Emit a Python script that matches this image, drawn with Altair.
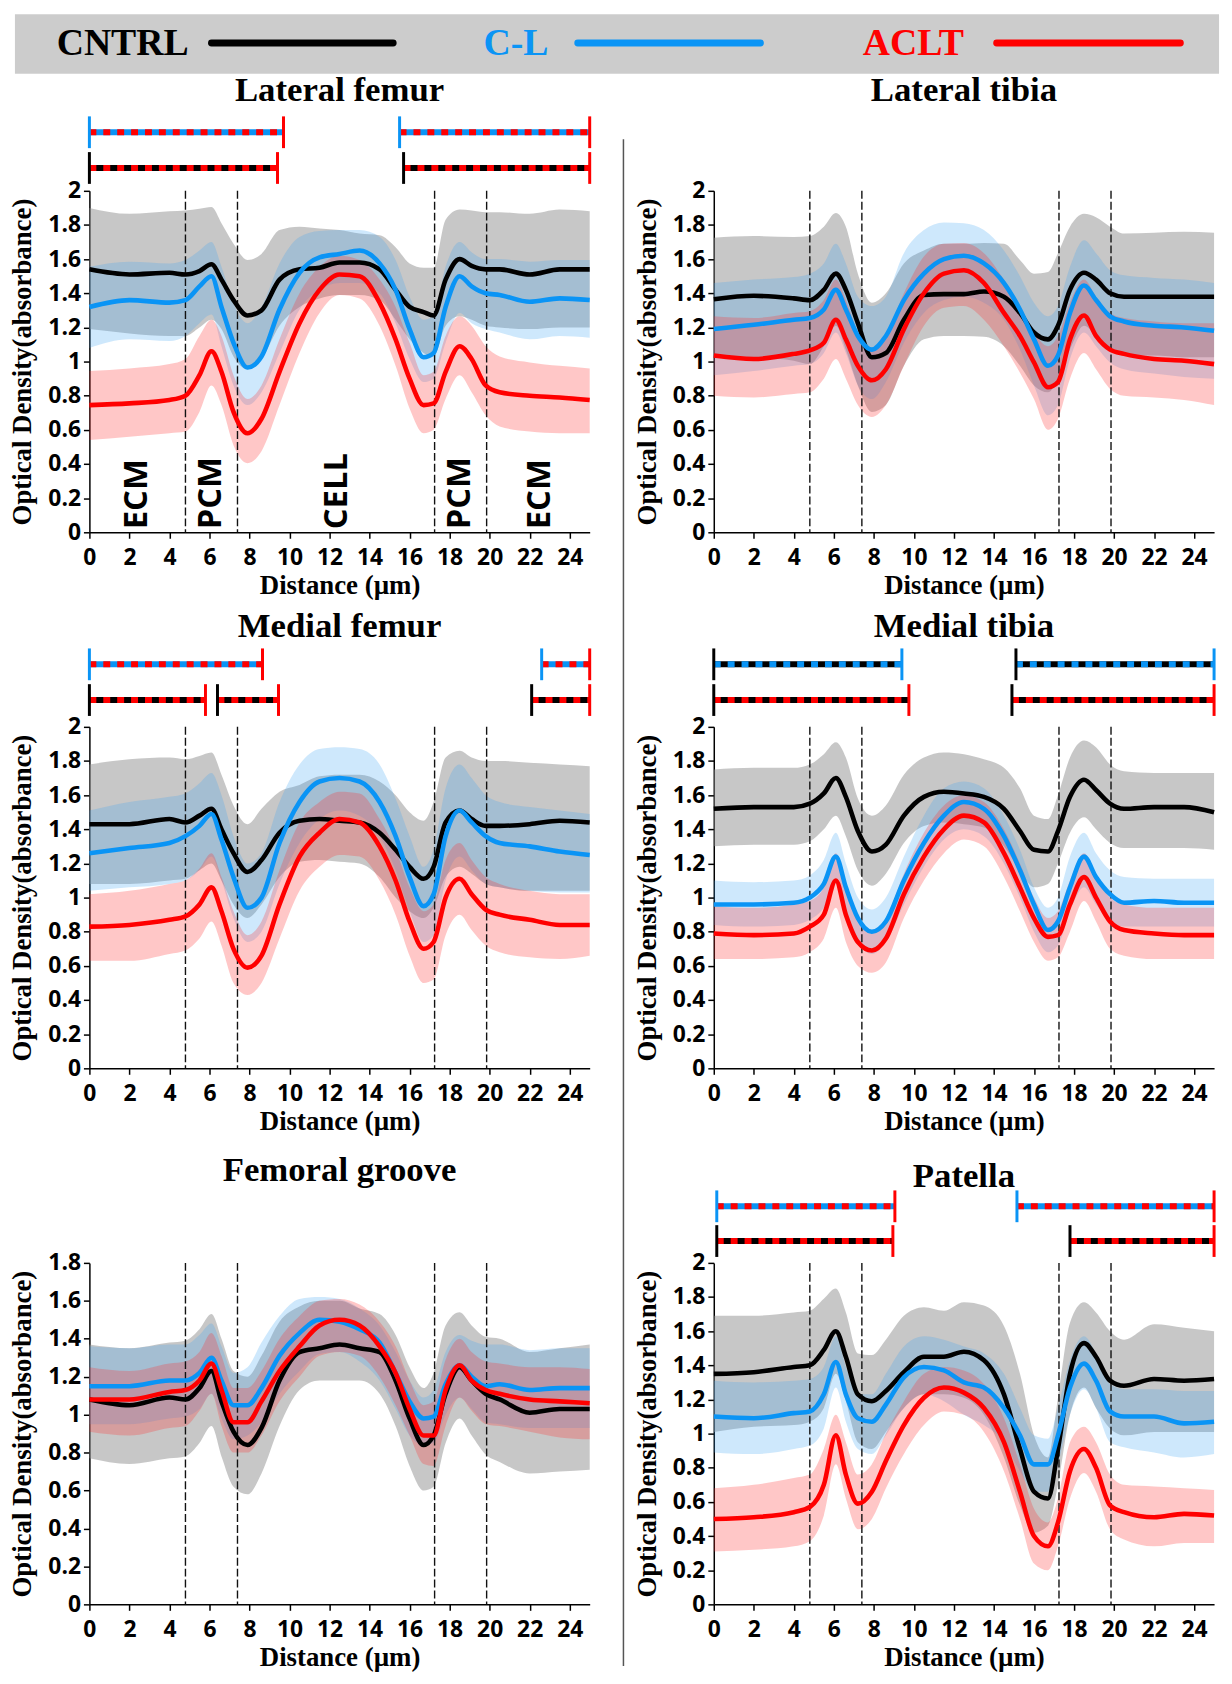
import altair as alt
import pandas as pd

GROUPS = ["CNTRL", "C-L", "ACLT"]
LINE_COLORS = ["#000000", "#0a94f5", "#ff0000"]
BAND_FILLS = ["#909090", "#3aa5f5", "#ff3030"]
BAND_OPACITY = [0.5, 0.25, 0.27]
COLOR_OF = dict(zip(GROUPS, LINE_COLORS))

X = [0, 2, 4, 4.8, 5.5, 6.1, 6.6, 7.2, 7.9, 8.6, 9.5, 10.5, 11.5, 12.5, 13.5,
     14.5, 15.3, 16.0, 16.7, 17.2, 17.8, 18.5, 19.1, 19.8, 20.5, 22, 23.5, 25]
X_TICKS = [0, 2, 4, 6, 8, 10, 12, 14, 16, 18, 20, 22, 24]
Y_TICKS = [0, 0.2, 0.4, 0.6, 0.8, 1.0, 1.2, 1.4, 1.6, 1.8, 2.0]
Y_TICKS_FG = [0, 0.2, 0.4, 0.6, 0.8, 1.0, 1.2, 1.4, 1.6, 1.8]
BOUNDS = [4.8, 7.4, 17.25, 19.85]
REGIONS = ["ECM", "PCM", "CELL", "PCM", "ECM"]
REGION_X = [2.4, 6.1, 12.4, 18.5, 22.5]

# ---- Lateral femur ----
LF_CNTRL_M = [1.54,1.51,1.52,1.51,1.53,1.57,1.48,1.36,1.27,1.30,1.48,1.54,1.55,1.58,1.58,1.54,1.42,1.32,1.29,1.27,1.48,1.60,1.56,1.54,1.54,1.51,1.54,1.54]
LF_CNTRL_HI = [1.90,1.865,1.88,1.885,1.895,1.905,1.81,1.69,1.595,1.63,1.77,1.79,1.78,1.77,1.75,1.74,1.67,1.575,1.55,1.55,1.83,1.89,1.885,1.875,1.875,1.865,1.89,1.88]
LF_CNTRL_LO = [1.19,1.165,1.15,1.15,1.20,1.245,1.19,1.03,0.955,1.015,1.21,1.32,1.37,1.39,1.39,1.36,1.245,1.13,1.05,1.03,1.21,1.265,1.245,1.21,1.20,1.19,1.20,1.20]
LF_CL_M = [1.32,1.36,1.345,1.36,1.44,1.50,1.32,1.11,0.965,1.03,1.305,1.52,1.61,1.63,1.65,1.575,1.42,1.19,1.025,1.05,1.32,1.50,1.44,1.40,1.39,1.35,1.37,1.36]
LF_CL_HI = [1.555,1.585,1.575,1.595,1.65,1.70,1.555,1.34,1.225,1.32,1.575,1.73,1.765,1.77,1.77,1.73,1.595,1.38,1.245,1.265,1.555,1.70,1.64,1.60,1.60,1.585,1.595,1.595]
LF_CL_LO = [1.08,1.13,1.12,1.15,1.225,1.275,1.09,0.86,0.745,0.82,1.05,1.305,1.42,1.46,1.46,1.40,1.225,1.015,0.88,0.90,1.11,1.285,1.225,1.19,1.17,1.13,1.15,1.14]
LF_ACLT_M = [0.745,0.755,0.775,0.80,0.92,1.06,0.94,0.705,0.58,0.665,0.94,1.225,1.42,1.51,1.50,1.345,1.13,0.90,0.745,0.755,0.94,1.09,1.015,0.86,0.82,0.80,0.79,0.775]
LF_ACLT_HI = [0.945,0.96,0.985,1.015,1.15,1.245,1.15,0.92,0.78,0.86,1.13,1.40,1.555,1.62,1.595,1.48,1.32,1.11,0.92,0.94,1.15,1.265,1.21,1.09,1.03,0.995,0.975,0.96]
LF_ACLT_LO = [0.54,0.56,0.58,0.59,0.705,0.86,0.745,0.51,0.405,0.475,0.745,1.05,1.285,1.39,1.37,1.21,0.975,0.725,0.58,0.60,0.78,0.92,0.82,0.685,0.62,0.59,0.58,0.58]

# ---- Lateral tibia ----
LT_CNTRL_M = [1.365,1.385,1.37,1.36,1.42,1.515,1.42,1.225,1.025,1.05,1.245,1.39,1.395,1.395,1.41,1.38,1.285,1.17,1.13,1.21,1.42,1.52,1.48,1.40,1.38,1.38,1.38,1.38]
LT_CNTRL_HI = [1.725,1.735,1.73,1.735,1.79,1.87,1.79,1.515,1.345,1.40,1.575,1.65,1.69,1.69,1.695,1.69,1.595,1.515,1.525,1.635,1.79,1.865,1.845,1.79,1.75,1.755,1.76,1.755]
LT_CNTRL_LO = [1.035,1.025,1.005,0.985,1.09,1.21,1.07,0.86,0.705,0.745,0.975,1.13,1.15,1.15,1.145,1.09,0.975,0.86,0.82,0.90,1.07,1.21,1.15,1.07,1.035,1.035,1.025,1.025]
LT_CL_M = [1.19,1.215,1.245,1.255,1.305,1.42,1.305,1.15,1.07,1.15,1.36,1.515,1.60,1.62,1.575,1.46,1.305,1.13,0.975,1.035,1.285,1.445,1.36,1.265,1.235,1.21,1.20,1.18]
LT_CL_HI = [1.46,1.48,1.495,1.515,1.575,1.69,1.575,1.38,1.325,1.38,1.635,1.77,1.815,1.81,1.77,1.65,1.50,1.345,1.265,1.325,1.555,1.71,1.635,1.535,1.505,1.49,1.48,1.46]
LT_CL_LO = [0.92,0.945,0.975,0.985,1.05,1.17,1.05,0.86,0.78,0.88,1.11,1.285,1.36,1.38,1.345,1.245,1.07,0.86,0.685,0.745,1.015,1.17,1.09,0.995,0.955,0.93,0.91,0.90]
LT_ACLT_M = [1.035,1.015,1.045,1.065,1.11,1.245,1.13,0.975,0.89,0.955,1.19,1.40,1.515,1.535,1.46,1.285,1.15,0.995,0.85,0.88,1.13,1.27,1.15,1.07,1.045,1.015,1.005,0.985]
LT_ACLT_HI = [1.265,1.255,1.285,1.295,1.36,1.48,1.36,1.17,1.07,1.15,1.40,1.615,1.69,1.695,1.635,1.48,1.325,1.17,1.09,1.15,1.345,1.48,1.38,1.285,1.255,1.235,1.225,1.225]
LT_ACLT_LO = [0.80,0.79,0.81,0.82,0.90,1.015,0.90,0.745,0.675,0.745,0.975,1.21,1.315,1.325,1.245,1.09,0.935,0.78,0.60,0.665,0.90,1.05,0.955,0.84,0.80,0.79,0.775,0.745]

# ---- Medial femur ----
MF_CNTRL_M = [1.43,1.43,1.46,1.44,1.48,1.52,1.40,1.26,1.15,1.22,1.38,1.45,1.46,1.45,1.44,1.38,1.28,1.18,1.11,1.18,1.44,1.51,1.46,1.42,1.42,1.43,1.45,1.44]
MF_CNTRL_HI = [1.78,1.81,1.82,1.81,1.83,1.85,1.72,1.54,1.43,1.52,1.62,1.66,1.71,1.72,1.72,1.68,1.60,1.50,1.45,1.56,1.82,1.86,1.82,1.80,1.80,1.79,1.78,1.77]
MF_CNTRL_LO = [1.08,1.08,1.10,1.11,1.16,1.20,1.10,0.96,0.88,0.96,1.12,1.21,1.22,1.21,1.20,1.12,1.00,0.92,0.88,0.94,1.12,1.18,1.14,1.08,1.06,1.04,1.04,1.04]
MF_CL_M = [1.26,1.29,1.32,1.36,1.42,1.49,1.34,1.12,0.94,1.00,1.32,1.56,1.68,1.70,1.68,1.56,1.36,1.12,0.95,1.02,1.36,1.51,1.44,1.36,1.32,1.30,1.27,1.25]
MF_CL_HI = [1.51,1.56,1.59,1.61,1.67,1.73,1.60,1.36,1.20,1.26,1.56,1.78,1.87,1.88,1.87,1.78,1.58,1.36,1.18,1.28,1.64,1.78,1.70,1.60,1.56,1.53,1.51,1.49]
MF_CL_LO = [1.04,1.06,1.08,1.10,1.16,1.24,1.10,0.88,0.74,0.80,1.08,1.32,1.46,1.51,1.48,1.36,1.16,0.92,0.74,0.78,1.10,1.24,1.16,1.08,1.06,1.04,1.03,1.03]
MF_ACLT_M = [0.83,0.84,0.87,0.89,0.96,1.06,0.92,0.70,0.59,0.66,0.96,1.24,1.38,1.46,1.44,1.30,1.10,0.86,0.70,0.74,1.00,1.11,1.02,0.93,0.90,0.87,0.84,0.84]
MF_ACLT_HI = [1.02,1.04,1.08,1.10,1.17,1.26,1.12,0.92,0.78,0.86,1.16,1.44,1.56,1.62,1.61,1.46,1.28,1.06,0.92,0.96,1.22,1.32,1.22,1.12,1.08,1.04,1.02,1.02]
MF_ACLT_LO = [0.63,0.63,0.67,0.69,0.76,0.86,0.72,0.50,0.43,0.50,0.76,1.04,1.18,1.25,1.24,1.10,0.90,0.66,0.50,0.52,0.78,0.90,0.81,0.72,0.68,0.65,0.64,0.66]

# ---- Medial tibia ----
MT_CNTRL_M = [1.52,1.53,1.53,1.55,1.61,1.70,1.59,1.39,1.27,1.31,1.48,1.59,1.62,1.61,1.59,1.52,1.39,1.28,1.27,1.39,1.59,1.69,1.63,1.55,1.52,1.53,1.53,1.50]
MT_CNTRL_HI = [1.75,1.76,1.76,1.78,1.84,1.91,1.82,1.58,1.48,1.54,1.72,1.82,1.85,1.84,1.81,1.76,1.64,1.48,1.46,1.60,1.82,1.92,1.88,1.78,1.74,1.73,1.73,1.73]
MT_CNTRL_LO = [1.30,1.31,1.31,1.33,1.40,1.48,1.36,1.16,1.07,1.14,1.32,1.42,1.44,1.43,1.41,1.30,1.16,1.06,1.08,1.20,1.38,1.47,1.40,1.32,1.29,1.29,1.29,1.28]
MT_CL_M = [0.96,0.96,0.97,1.00,1.08,1.24,1.06,0.88,0.80,0.86,1.10,1.32,1.48,1.56,1.52,1.36,1.16,0.96,0.81,0.86,1.06,1.24,1.12,1.02,0.97,0.98,0.97,0.97]
MT_CL_HI = [1.10,1.09,1.10,1.13,1.22,1.38,1.20,1.00,0.93,1.00,1.24,1.48,1.64,1.68,1.64,1.48,1.28,1.06,0.94,1.00,1.24,1.38,1.26,1.16,1.12,1.11,1.11,1.11]
MT_CL_LO = [0.84,0.83,0.84,0.87,0.94,1.08,0.92,0.74,0.67,0.74,0.96,1.18,1.34,1.40,1.36,1.20,1.00,0.80,0.68,0.72,0.92,1.06,0.96,0.86,0.83,0.83,0.83,0.83]
MT_ACLT_M = [0.79,0.78,0.79,0.83,0.90,1.10,0.90,0.74,0.69,0.76,1.02,1.24,1.40,1.48,1.44,1.26,1.06,0.88,0.77,0.78,0.96,1.12,1.00,0.86,0.81,0.79,0.78,0.78]
MT_ACLT_HI = [0.95,0.94,0.96,0.98,1.06,1.26,1.06,0.88,0.81,0.88,1.14,1.38,1.54,1.60,1.56,1.40,1.20,1.00,0.88,0.92,1.10,1.26,1.14,1.00,0.96,0.94,0.94,0.94]
MT_ACLT_LO = [0.64,0.64,0.65,0.68,0.76,0.94,0.74,0.60,0.56,0.62,0.88,1.10,1.26,1.34,1.30,1.12,0.92,0.74,0.63,0.65,0.80,0.98,0.86,0.70,0.66,0.64,0.64,0.64]

# ---- Femoral groove ----
FG_CNTRL_M = [1.08,1.05,1.09,1.08,1.14,1.23,1.07,0.91,0.84,0.93,1.18,1.33,1.35,1.37,1.35,1.33,1.18,0.98,0.84,0.89,1.11,1.25,1.18,1.11,1.08,1.01,1.03,1.03]
FG_CNTRL_HI = [1.37,1.35,1.38,1.39,1.45,1.53,1.40,1.23,1.20,1.31,1.49,1.57,1.60,1.60,1.56,1.53,1.42,1.25,1.14,1.22,1.47,1.54,1.47,1.41,1.40,1.33,1.35,1.37]
FG_CNTRL_LO = [0.77,0.74,0.77,0.78,0.85,0.94,0.78,0.62,0.58,0.69,0.94,1.13,1.18,1.18,1.18,1.11,0.94,0.73,0.60,0.62,0.85,0.98,0.89,0.79,0.75,0.69,0.70,0.71]
FG_CL_M = [1.15,1.15,1.18,1.18,1.22,1.30,1.18,1.05,1.05,1.14,1.31,1.43,1.50,1.49,1.45,1.38,1.22,1.07,0.98,0.99,1.16,1.26,1.20,1.15,1.16,1.13,1.14,1.14]
FG_CL_HI = [1.36,1.35,1.37,1.37,1.42,1.48,1.36,1.22,1.25,1.38,1.52,1.61,1.62,1.61,1.56,1.47,1.33,1.18,1.09,1.13,1.33,1.42,1.39,1.37,1.37,1.34,1.35,1.35]
FG_CL_LO = [0.95,0.95,0.98,0.99,1.03,1.11,0.98,0.87,0.89,0.96,1.11,1.23,1.32,1.33,1.28,1.18,1.03,0.89,0.84,0.85,1.00,1.09,1.03,0.96,0.95,0.93,0.93,0.93]
FG_ACLT_M = [1.08,1.08,1.12,1.13,1.18,1.27,1.13,0.96,0.96,1.07,1.23,1.36,1.47,1.50,1.47,1.36,1.22,1.03,0.89,0.89,1.13,1.26,1.18,1.13,1.11,1.08,1.07,1.06]
FG_ACLT_HI = [1.25,1.23,1.27,1.28,1.33,1.43,1.31,1.14,1.14,1.23,1.40,1.52,1.60,1.61,1.58,1.49,1.36,1.18,1.05,1.07,1.29,1.40,1.33,1.28,1.27,1.25,1.25,1.24]
FG_ACLT_LO = [0.91,0.89,0.93,0.94,1.02,1.11,0.94,0.80,0.80,0.89,1.07,1.20,1.31,1.33,1.31,1.20,1.05,0.89,0.74,0.73,0.94,1.09,1.02,0.95,0.94,0.91,0.88,0.87]

# ---- Patella ----
PA_CNTRL_M = [1.35,1.36,1.39,1.40,1.49,1.60,1.45,1.23,1.19,1.25,1.36,1.45,1.45,1.48,1.43,1.23,0.91,0.66,0.62,0.91,1.35,1.53,1.45,1.31,1.28,1.32,1.31,1.32]
PA_CNTRL_HI = [1.69,1.69,1.71,1.72,1.79,1.85,1.71,1.47,1.46,1.55,1.69,1.74,1.72,1.77,1.75,1.63,1.35,0.99,0.86,1.21,1.65,1.77,1.71,1.60,1.55,1.64,1.62,1.60]
PA_CNTRL_LO = [1.01,1.04,1.05,1.07,1.15,1.35,1.19,0.95,0.91,1.01,1.15,1.23,1.23,1.21,1.11,0.86,0.58,0.42,0.46,0.70,1.11,1.27,1.15,1.03,0.99,1.01,1.01,1.01]
PA_CL_M = [1.10,1.09,1.12,1.13,1.23,1.42,1.23,1.09,1.07,1.17,1.33,1.39,1.37,1.30,1.27,1.15,0.99,0.82,0.82,0.99,1.27,1.41,1.31,1.13,1.10,1.10,1.06,1.07]
PA_CL_HI = [1.31,1.30,1.31,1.32,1.39,1.57,1.39,1.23,1.23,1.35,1.51,1.57,1.55,1.51,1.47,1.35,1.15,0.99,0.97,1.15,1.43,1.57,1.47,1.29,1.26,1.26,1.25,1.25]
PA_CL_LO = [0.89,0.88,0.91,0.93,1.03,1.27,1.07,0.91,0.88,0.99,1.15,1.23,1.19,1.11,1.05,0.95,0.78,0.66,0.66,0.82,1.11,1.26,1.15,0.95,0.92,0.89,0.86,0.88]
PA_ACLT_M = [0.50,0.51,0.54,0.57,0.70,0.99,0.76,0.59,0.66,0.84,1.05,1.21,1.27,1.24,1.15,0.95,0.66,0.40,0.34,0.48,0.78,0.91,0.80,0.58,0.54,0.51,0.53,0.52]
PA_ACLT_HI = [0.68,0.70,0.74,0.76,0.91,1.11,0.95,0.76,0.82,1.00,1.19,1.35,1.39,1.37,1.29,1.09,0.82,0.56,0.48,0.62,0.95,1.04,0.95,0.76,0.70,0.69,0.68,0.67]
PA_ACLT_LO = [0.31,0.32,0.34,0.37,0.52,0.82,0.62,0.44,0.50,0.68,0.88,1.05,1.13,1.11,1.01,0.78,0.50,0.24,0.20,0.34,0.62,0.77,0.66,0.44,0.38,0.34,0.36,0.36]

# significance bars: (left group, right group, [(start, end), ...]) for upper and lower rows
LF_SIG = [("C-L", "ACLT", [(0, 9.7), (15.5, 25)]), ("CNTRL", "ACLT", [(0, 9.4), (15.7, 25)])]
MF_SIG = [("C-L", "ACLT", [(0, 8.65), (22.6, 25)]), ("CNTRL", "ACLT", [(0, 5.8), (6.4, 9.45), (22.1, 25)])]
MT_SIG = [("CNTRL", "C-L", [(0, 9.4), (15.1, 25)]), ("CNTRL", "ACLT", [(0, 9.75), (14.9, 25)])]
PA_SIG = [("C-L", "ACLT", [(0.15, 9.05), (15.15, 25)]), ("CNTRL", "ACLT", [(0.15, 8.95), (17.8, 25)])]

W, H = 504, 344
XSCALE = alt.Scale(domain=[0, 25], nice=False, zero=False)
XAXIS = alt.Axis(values=X_TICKS, title="Distance (µm)", labelFlush=False, labelOverlap=False,
                 titlePadding=4, labelPadding=8, tickSize=6)
ONE = pd.DataFrame({"k": [0]})


def ex(field):
    return alt.X(field, type="quantitative", scale=XSCALE, axis=XAXIS)


def panel(title, series, ymax, yticks, title_dy, sig=None, sig_dy=(-60, -24),
          regions=False, legend=False, separator=False):
    yscale = alt.Scale(domain=[0, ymax], nice=False, zero=True)
    yaxis = alt.Axis(values=yticks, format=".1~f", title="Optical Density(absorbance)",
                     titlePadding=11, labelPadding=3, tickSize=6)

    def ey(field):
        return alt.Y(field, type="quantitative", scale=yscale, axis=yaxis)

    rows = []
    for g, (m, lo, hi) in zip(GROUPS, series):
        for i, x in enumerate(X):
            rows.append({"x": x, "group": g, "m": m[i], "lo": lo[i], "hi": hi[i]})
    df = pd.DataFrame(rows)

    layers = []
    for g, fill, op in zip(GROUPS, BAND_FILLS, BAND_OPACITY):
        layers.append(
            alt.Chart(df).transform_filter(alt.datum.group == g)
            .mark_area(interpolate="monotone", color=fill, opacity=op)
            .encode(x=ex("x"), y=ey("lo"), y2=alt.Y2("hi"))
        )
    layers.append(
        alt.Chart(pd.DataFrame({"b": BOUNDS}))
        .mark_rule(color="#111111", strokeWidth=1.4, strokeDash=[8, 3])
        .encode(x=ex("b"), y=alt.value(0), y2=alt.value(H))
    )
    for g, c in zip(GROUPS, LINE_COLORS):
        layers.append(
            alt.Chart(df).transform_filter(alt.datum.group == g)
            .mark_line(interpolate="monotone", color=c, strokeWidth=4.6)
            .encode(x=ex("x"), y=ey("m"))
        )
    if regions:
        layers.append(
            alt.Chart(pd.DataFrame({"rx": REGION_X, "lab": REGIONS}))
            .mark_text(angle=270, align="left", baseline="middle", font="Open Sans",
                       fontWeight="bold", fontSize=33, color="black")
            .encode(x=ex("rx"), y=alt.value(H - 3), text="lab:N")
        )
    if sig:
        for (g1, g2, spans), yo in zip(sig, sig_dy):
            sdf = pd.DataFrame({"s": [a for a, b in spans], "e": [b for a, b in spans]})
            c1, c2 = COLOR_OF[g1], COLOR_OF[g2]
            layers.append(alt.Chart(sdf).mark_rule(color=c1, strokeWidth=6)
                          .encode(x=ex("s"), x2=alt.X2("e"), y=alt.value(yo)))
            layers.append(alt.Chart(sdf).mark_rule(color=c2, strokeWidth=6, strokeDash=[7, 7])
                          .encode(x=ex("s"), x2=alt.X2("e"), y=alt.value(yo)))
            layers.append(alt.Chart(sdf).mark_rule(color=c1, strokeWidth=3)
                          .encode(x=ex("s"), y=alt.value(yo - 16), y2=alt.value(yo + 16)))
            layers.append(alt.Chart(sdf).mark_rule(color=c2, strokeWidth=3)
                          .encode(x=ex("e"), y=alt.value(yo - 16), y2=alt.value(yo + 16)))
    layers.append(
        alt.Chart(ONE).mark_text(text=title, font="Liberation Serif", fontWeight="bold",
                                 fontSize=35, color="black", baseline="middle", align="center")
        .encode(x=alt.value(W / 2), y=alt.value(title_dy))
    )
    if legend:
        layers.append(alt.Chart(ONE).mark_rect(color="#cccccc")
                      .encode(x=alt.value(-75), x2=alt.value(1138), y=alt.value(-178), y2=alt.value(-118)))
        for g, c, tx, l0, l1 in zip(GROUPS, LINE_COLORS, [-33, 397, 779], [123, 492, 914], [306, 676, 1099]):
            layers.append(alt.Chart(ONE).mark_text(text=g, font="Liberation Serif", fontWeight="bold",
                                                   fontSize=38, color=c, align="left", baseline="alphabetic")
                          .encode(x=alt.value(tx), y=alt.value(-137)))
            layers.append(alt.Chart(ONE).mark_rule(color=c, strokeWidth=7, strokeCap="round")
                          .encode(x=alt.value(l0), x2=alt.value(l1), y=alt.value(-149)))
    if separator:
        layers.append(alt.Chart(ONE).mark_rule(color="#555555", strokeWidth=1.5)
                      .encode(x=alt.value(-91), y=alt.value(-52), y2=alt.value(1486)))
    return alt.layer(*layers).properties(width=W, height=H)


p1 = panel("Lateral femur", [(LF_CNTRL_M, LF_CNTRL_LO, LF_CNTRL_HI), (LF_CL_M, LF_CL_LO, LF_CL_HI),
                             (LF_ACLT_M, LF_ACLT_LO, LF_ACLT_HI)], 2, Y_TICKS, -101,
           sig=LF_SIG, sig_dy=(-59, -23), regions=True, legend=True)
p2 = panel("Lateral tibia", [(LT_CNTRL_M, LT_CNTRL_LO, LT_CNTRL_HI), (LT_CL_M, LT_CL_LO, LT_CL_HI),
                             (LT_ACLT_M, LT_ACLT_LO, LT_ACLT_HI)], 2, Y_TICKS, -101, separator=True)
p3 = panel("Medial femur", [(MF_CNTRL_M, MF_CNTRL_LO, MF_CNTRL_HI), (MF_CL_M, MF_CL_LO, MF_CL_HI),
                            (MF_ACLT_M, MF_ACLT_LO, MF_ACLT_HI)], 2, Y_TICKS, -102,
           sig=MF_SIG, sig_dy=(-63, -27))
p4 = panel("Medial tibia", [(MT_CNTRL_M, MT_CNTRL_LO, MT_CNTRL_HI), (MT_CL_M, MT_CL_LO, MT_CL_HI),
                            (MT_ACLT_M, MT_ACLT_LO, MT_ACLT_HI)], 2, Y_TICKS, -102,
           sig=MT_SIG, sig_dy=(-63, -27))
p5 = panel("Femoral groove", [(FG_CNTRL_M, FG_CNTRL_LO, FG_CNTRL_HI), (FG_CL_M, FG_CL_LO, FG_CL_HI),
                              (FG_ACLT_M, FG_ACLT_LO, FG_ACLT_HI)], 1.8, Y_TICKS_FG, -93)
p6 = panel("Patella", [(PA_CNTRL_M, PA_CNTRL_LO, PA_CNTRL_HI), (PA_CL_M, PA_CL_LO, PA_CL_HI),
                       (PA_ACLT_M, PA_ACLT_LO, PA_ACLT_HI)], 2, Y_TICKS, -87,
           sig=PA_SIG, sig_dy=(-57, -22))

chart = alt.concat(p1, p2, p3, p4, p5, p6, columns=2, bounds="flush",
                   spacing={"row": 196, "column": 125}).properties(
    padding={"left": 1, "top": 0, "right": 0, "bottom": 0}
).configure_view(stroke=None).configure_axis(
    grid=False, domainColor="black", domainWidth=1.5, tickColor="black", tickWidth=1.5,
    labelFont="Open Sans", labelFontWeight="bold", labelFontSize=23, labelColor="black",
    titleFont="Liberation Serif", titleFontWeight="bold", titleFontSize=27, titleColor="black"
)

chart.save("out.html", embed_options={"renderer": "svg", "actions": False})
